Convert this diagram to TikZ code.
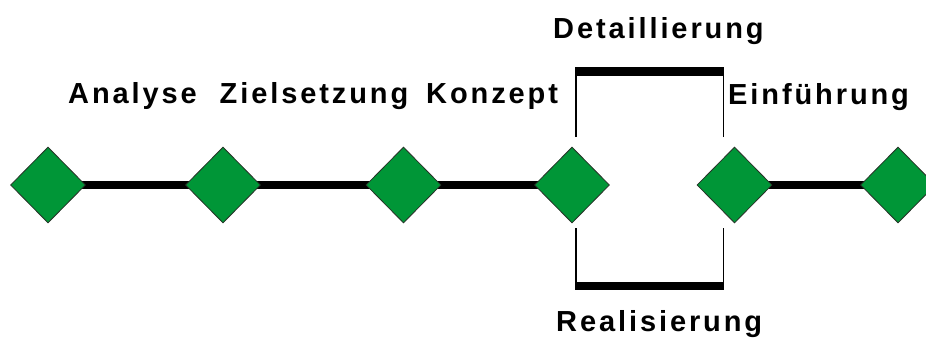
\documentclass[tikz,border=0pt]{standalone}
\usepackage{fontspec}
\usetikzlibrary{shapes.geometric,backgrounds}
\newfontfamily\phasefont{Liberation Sans}[LetterSpace=10]
\definecolor{milestone}{RGB}{0,150,55}
\definecolor{milestoneborder}{RGB}{40,50,40}
\tikzset{
  milestonebox/.style={diamond, fill=milestone, draw=milestoneborder, line width=0.8pt,
    inner sep=0pt, minimum width=75pt, minimum height=76pt},
  phaseline/.style={line width=8.5pt, black},
  guideline/.style={line width=1.5pt, black},
  phaselabel/.style={anchor=base west, inner sep=0pt,
    font=\phasefont\bfseries\fontsize{29}{31}\selectfont}
}
\begin{document}
\begin{tikzpicture}[x=1pt, y=-1pt]
  \useasboundingbox (0,0) rectangle (926,338);
  \clip (0,0) rectangle (926,338);

  % milestones
  \node[milestonebox] (m1) at (48,185) {};
  \node[milestonebox] (m2) at (223,185) {};
  \node[milestonebox] (m3) at (403.5,185) {};
  \node[milestonebox] (m4) at (572,185) {};
  \node[milestonebox] (m5) at (734.5,185) {};
  \node[milestonebox] (m6) at (898,185) {};

  % phase bars between milestones, running under the diamonds
  \begin{pgfonlayer}{background}
    \draw[phaseline] (m1.center) -- (m2.center);
    \draw[phaseline] (m2.center) -- (m3.center);
    \draw[phaseline] (m3.center) -- (m4.center);
    \draw[phaseline] (m5.center) -- (m6.center);
  \end{pgfonlayer}

  % parallel phases: bracket above and below
  \coordinate (ta) at (576,71.5);
  \coordinate (tb) at (723.5,71.5);
  \coordinate (ta2) at (576,137);
  \coordinate (tb2) at (723.5,137);
  \coordinate (ba) at (576,286);
  \coordinate (bb) at (723.5,286);
  \coordinate (ba2) at (576,228);
  \coordinate (bb2) at (723.5,228);
  \draw[guideline] (ta2) -- (ta);
  \draw[guideline] (tb2) -- (tb);
  \draw[guideline] (ba2) -- (ba);
  \draw[guideline] (bb2) -- (bb);
  \draw[phaseline] ([xshift=-0.8pt]ta) -- ([xshift=0.8pt]tb);
  \draw[phaseline] ([xshift=-0.8pt]ba) -- ([xshift=0.8pt]bb);

  % phase names
  \node[phaselabel] (l1) at (68,103) {Analyse};
  \node[phaselabel] (l2) at (219.5,103) {Zielsetzung};
  \node[phaselabel] (l3) at (426,103) {Konzept};
  \node[phaselabel] (l4) at (728,104) {Einführung};
  \node[phaselabel] (l5) at (553,38) {Detaillierung};
  \node[phaselabel] (l6) at (556,331) {Realisierung};
\end{tikzpicture}
\end{document}
